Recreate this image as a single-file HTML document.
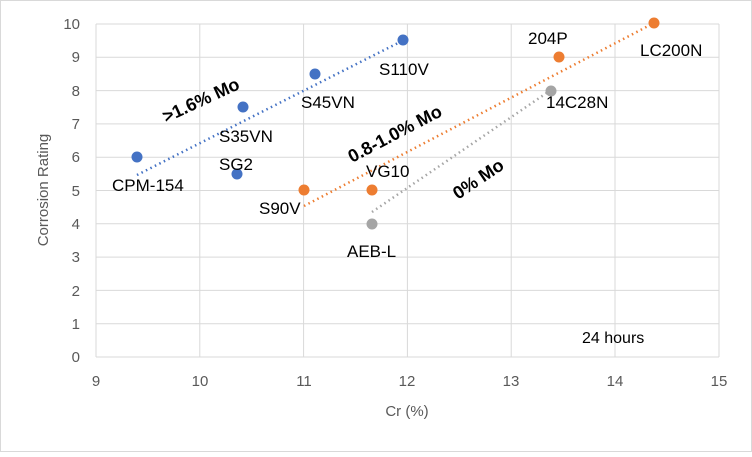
<!DOCTYPE html>
<html><head><style>
body{margin:0;background:#fff}
svg text{font-family:"Liberation Sans",sans-serif}
</style></head><body>
<svg width="752" height="452" viewBox="0 0 752 452" xmlns="http://www.w3.org/2000/svg">
<rect x="0.5" y="0.5" width="751" height="451" fill="#fff" stroke="#d9d9d9"/>
<g stroke="#d9d9d9" stroke-width="1">
<line x1="96" y1="24" x2="719" y2="24"/><line x1="96" y1="57.3" x2="719" y2="57.3"/><line x1="96" y1="90.6" x2="719" y2="90.6"/><line x1="96" y1="123.9" x2="719" y2="123.9"/><line x1="96" y1="157.2" x2="719" y2="157.2"/><line x1="96" y1="190.5" x2="719" y2="190.5"/><line x1="96" y1="223.8" x2="719" y2="223.8"/><line x1="96" y1="257.1" x2="719" y2="257.1"/><line x1="96" y1="290.4" x2="719" y2="290.4"/><line x1="96" y1="323.7" x2="719" y2="323.7"/><line x1="96" y1="357" x2="719" y2="357"/>
<line x1="96" y1="24" x2="96" y2="357"/><line x1="199.8" y1="24" x2="199.8" y2="357"/><line x1="303.6" y1="24" x2="303.6" y2="357"/><line x1="407.4" y1="24" x2="407.4" y2="357"/><line x1="511.2" y1="24" x2="511.2" y2="357"/><line x1="615" y1="24" x2="615" y2="357"/><line x1="719" y1="24" x2="719" y2="357"/>
</g>
<g fill="#595959" font-size="15" text-anchor="end">
<text x="80" y="29">10</text><text x="80" y="62">9</text><text x="80" y="96">8</text><text x="80" y="129">7</text><text x="80" y="162">6</text><text x="80" y="196">5</text><text x="80" y="229">4</text><text x="80" y="262">3</text><text x="80" y="296">2</text><text x="80" y="329">1</text><text x="80" y="362">0</text>
</g>
<g fill="#595959" font-size="15" text-anchor="middle">
<text x="96" y="386">9</text><text x="200" y="386">10</text><text x="304" y="386">11</text><text x="407" y="386">12</text><text x="511" y="386">13</text><text x="615" y="386">14</text><text x="719" y="386">15</text>
<text x="407" y="416">Cr (%)</text>
<text transform="translate(48,190) rotate(-90)">Corrosion Rating</text>
</g>
<g stroke-width="2.5" stroke-dasharray="1.5,3.5" fill="none">
<line x1="137" y1="175" x2="402" y2="41" stroke="#4472c4"/>
<line x1="304" y1="206" x2="652" y2="24" stroke="#ed7d31"/>
<line x1="372" y1="212" x2="551" y2="90" stroke="#a5a5a5"/>
</g>
<g fill="#4472c4"><circle cx="137" cy="157" r="5.5"/><circle cx="237" cy="174" r="5.5"/><circle cx="243" cy="107" r="5.5"/><circle cx="315" cy="74" r="5.5"/><circle cx="403" cy="40" r="5.5"/></g>
<g fill="#ed7d31"><circle cx="304" cy="190" r="5.5"/><circle cx="372" cy="190" r="5.5"/><circle cx="559" cy="57" r="5.5"/><circle cx="654" cy="23" r="5.5"/></g>
<g fill="#a5a5a5"><circle cx="372" cy="224" r="5.5"/><circle cx="551" cy="91" r="5.5"/></g>
<g fill="#000" font-size="17">
<text x="112" y="191">CPM-154</text><text x="219" y="170">SG2</text><text x="219" y="142">S35VN</text><text x="301" y="108">S45VN</text><text x="379" y="75">S110V</text>
<text x="259" y="214">S90V</text><text x="366" y="177">VG10</text><text x="528" y="44">204P</text><text x="640" y="56">LC200N</text>
<text x="347" y="257">AEB-L</text><text x="546" y="108">14C28N</text>
<text x="582" y="343" font-size="16">24 hours</text>
</g>
<g fill="#000" font-size="18" font-weight="bold">
<text transform="translate(166,123) rotate(-24.8)">&gt;1.6% Mo</text>
<text transform="translate(352,163) rotate(-27.6)">0.8-1.0% Mo</text>
<text transform="translate(458,200) rotate(-34)">0% Mo</text>
</g>
</svg>
</body></html>
